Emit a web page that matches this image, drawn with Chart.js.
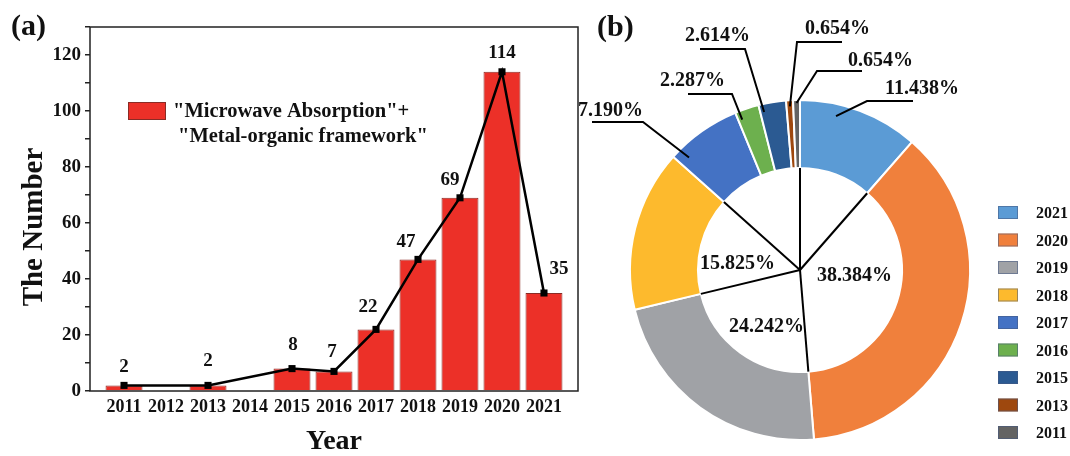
<!DOCTYPE html>
<html><head><meta charset="utf-8">
<script src="https://cdn.jsdelivr.net/npm/chart.js@4/dist/chart.umd.min.js"></script>
<style>
html,body{margin:0;padding:0;background:#fff;width:1070px;height:456px;overflow:hidden}
#c1{position:absolute;left:0;top:0}
#c2{position:absolute;left:560px;top:0}
</style></head><body>
<canvas id="c1" width="590" height="456"></canvas>
<canvas id="c2" width="510" height="456"></canvas>
<script>
// ---- data: panel (a)
const years = [2011, 2013, 2015, 2016, 2017, 2018, 2019, 2020, 2021];
const counts = [2, 2, 8, 7, 22, 47, 69, 114, 35];
const xTickYears = [2011, 2012, 2013, 2014, 2015, 2016, 2017, 2018, 2019, 2020, 2021];
const yTickValues = [0, 20, 40, 60, 80, 100, 120];
const seriesName = ['"Microwave Absorption"+', '"Metal-organic framework"'];
// ---- data: panel (b)
const pieYears = ['2021', '2020', '2019', '2018', '2017', '2016', '2015', '2013', '2011'];
const pieCounts = [35, 114, 69, 47, 22, 7, 8, 2, 2];
const pieLabels = ['11.438%', '38.384%', '24.242%', '15.825%', '7.190%', '2.287%', '2.614%', '0.654%', '0.654%'];

// ---- styles
const SERIF = '"Liberation Serif", "Times New Roman", serif';
const barColor = '#EC3028';
const pieColors = ['#5B9BD5', '#F0803C', '#A0A2A6', '#FDBA2D', '#4472C4', '#6DB04E', '#2B5A92', '#9E480E', '#636363'];
// value label nudges (relative to point): [dx, dy]
const valueNudge = [[0,-13],[0,-19],[1,-19],[-2,-14],[-8,-17],[-12,-12],[-10,-13],[0,-14],[15,-19]];
// pie callouts (relative to the pie centre)
const pieCallouts = [
  {i:0, t:0.32, r:158, elbow:[67,-169], end:[113,-169], text:[85,-176]},
  {i:7, t:0.5,  r:164, elbow:[-3,-228], end:[42,-228],  text:[5,-236]},
  {i:8, t:0.5,  r:167, elbow:[17,-199], end:[62,-199],  text:[48,-204]},
  {i:6, t:0.14, r:162, elbow:[-55,-221], end:[-100,-221], text:[-115,-229]},
  {i:5, t:0.16, r:161, elbow:[-68,-176], end:[-112,-176], text:[-140,-184]},
  {i:4, t:0.14, r:158, elbow:[-157,-148], end:[-208,-148], text:[-222,-154]}
];
const pieInner = [{i:1, text:[17,11]}, {i:2, text:[-71,62]}, {i:3, text:[-100,-1]}];

const framePlugin = {
  id: 'frame',
  afterDatasetsDraw(chart) {
    const {ctx, chartArea: a} = chart;
    ctx.save();
    ctx.strokeStyle = '#222'; ctx.lineWidth = 1.5;
    ctx.strokeRect(a.left, a.top, a.right - a.left, a.bottom - a.top);
    ctx.restore();
  }
};
const valueLabelPlugin = {
  id: 'valueLabels',
  afterDatasetsDraw(chart) {
    const ctx = chart.ctx;
    const meta = chart.getDatasetMeta(0);
    ctx.save();
    ctx.font = 'bold 19px ' + SERIF;
    ctx.fillStyle = '#111'; ctx.textAlign = 'center'; ctx.textBaseline = 'alphabetic';
    meta.data.forEach((pt, i) => {
      const n = valueNudge[i];
      ctx.fillText(String(counts[i]), pt.x + n[0], pt.y + n[1]);
    });
    ctx.restore();
  }
};
const leftDecor = {
  id: 'leftDecor',
  afterDraw(chart) {
    const ctx = chart.ctx;
    ctx.save();
    // legend
    ctx.fillStyle = barColor; ctx.fillRect(128, 102, 38, 18);
    ctx.strokeStyle = '#8a2b25'; ctx.lineWidth = 1; ctx.strokeRect(128.5, 102.5, 37, 17);
    ctx.fillStyle = '#111'; ctx.font = 'bold 20.5px ' + SERIF; ctx.textAlign = 'left'; ctx.textBaseline = 'alphabetic';
    ctx.fillText(seriesName[0], 173, 117);
    ctx.fillText(seriesName[1], 178, 142);
    // panel label
    ctx.font = 'bold 30px ' + SERIF;
    ctx.fillText('(a)', 11, 35);
    // y title
    ctx.translate(42, 227); ctx.rotate(-Math.PI / 2);
    ctx.font = 'bold 29px ' + SERIF; ctx.textAlign = 'center';
    ctx.fillText('The Number', 0, 0);
    ctx.restore();
  }
};

new Chart(document.getElementById('c1'), {
  type: 'bar',
  data: {
    datasets: [
      { type: 'line', label: 'line', data: years.map((y, i) => ({x: y, y: counts[i]})),
        borderColor: '#000', borderWidth: 2.5, pointStyle: 'rect', pointRadius: 5,
        pointBackgroundColor: '#000', pointBorderColor: '#000', pointBorderWidth: 0, tension: 0, order: 0 },
      { type: 'bar', label: seriesName.join(' '), data: years.map((y, i) => ({x: y, y: counts[i]})),
        backgroundColor: barColor, borderColor: '#8a2b25', borderWidth: 1,
        barPercentage: 0.88, categoryPercentage: 1, order: 1 }
    ]
  },
  options: {
    responsive: false, animation: false,
    layout: {padding: {left: 0, top: 27, right: 12, bottom: 0}},
    plugins: {legend: {display: false}, tooltip: {enabled: false}},
    scales: {
      x: {
        type: 'linear', min: 2010.19, max: 2021.81, offset: false,
        afterBuildTicks: s => { s.ticks = xTickYears.map(v => ({value: v})); },
        afterFit: s => { s.height = 65; },
        grid: {display: false, drawTicks: false}, border: {display: false},
        ticks: {font: {family: SERIF, weight: 'bold', size: 18}, color: '#111', padding: 6,
                autoSkip: false, maxRotation: 0, callback: v => String(v)},
        title: {display: true, text: 'Year', color: '#111', padding: {top: 0, bottom: 0},
                font: {family: SERIF, weight: 'bold', size: 28, lineHeight: 1}}
      },
      y: {
        min: 0, max: 130,
        afterFit: s => { s.width = 90; },
        ticks: {stepSize: 10, padding: 4, color: '#111', font: {family: SERIF, weight: 'bold', size: 19},
                callback: v => yTickValues.includes(v) ? String(v) : ''},
        grid: {drawOnChartArea: false, drawTicks: true, tickLength: 5, color: '#222', lineWidth: 1.5},
        border: {display: false}
      }
    }
  },
  plugins: [framePlugin, valueLabelPlugin, leftDecor]
});

const pieDecor = {
  id: 'pieDecor',
  afterDatasetsDraw(chart) {
    const ctx = chart.ctx;
    const arcs = chart.getDatasetMeta(0).data;
    const cx = arcs[0].x, cy = arcs[0].y;
    const inner = arcs[0].innerRadius;
    ctx.save();
    ctx.strokeStyle = '#000'; ctx.lineWidth = 2; ctx.lineCap = 'butt';
    // spokes from centre to inner edge
    const spokes = [arcs[0].startAngle, arcs[0].endAngle, arcs[1].endAngle, arcs[2].endAngle, arcs[3].endAngle];
    spokes.forEach(a => {
      ctx.beginPath(); ctx.moveTo(cx, cy);
      ctx.lineTo(cx + inner * Math.cos(a), cy + inner * Math.sin(a)); ctx.stroke();
    });
    ctx.font = 'bold 20px ' + SERIF; ctx.fillStyle = '#111'; ctx.textAlign = 'left'; ctx.textBaseline = 'alphabetic';
    pieCallouts.forEach(c => {
      const arc = arcs[c.i];
      const a = arc.startAngle + (arc.endAngle - arc.startAngle) * c.t;
      ctx.beginPath();
      ctx.moveTo(cx + c.r * Math.cos(a), cy + c.r * Math.sin(a));
      ctx.lineTo(cx + c.elbow[0], cy + c.elbow[1]);
      ctx.lineTo(cx + c.end[0], cy + c.end[1]);
      ctx.stroke();
      ctx.fillText(pieLabels[c.i], cx + c.text[0], cy + c.text[1]);
    });
    pieInner.forEach(c => ctx.fillText(pieLabels[c.i], cx + c.text[0], cy + c.text[1]));
    // legend
    ctx.font = 'bold 16px ' + SERIF;
    pieYears.forEach((y, i) => {
      const base = 218 + i * 27.5;
      ctx.fillStyle = pieColors[i]; ctx.fillRect(438, base - 12, 20, 13);
      ctx.strokeStyle = 'rgba(70,90,130,0.55)'; ctx.lineWidth = 1; ctx.strokeRect(438.5, base - 11.5, 19, 12);
      ctx.fillStyle = '#111'; ctx.fillText(y, 476, base);
    });
    ctx.font = 'bold 30px ' + SERIF;
    ctx.fillText('(b)', 37, 36);
    ctx.restore();
  }
};

new Chart(document.getElementById('c2'), {
  type: 'doughnut',
  data: {labels: pieYears, datasets: [{data: pieCounts, backgroundColor: pieColors, borderColor: '#fff', borderWidth: 2}]},
  options: {
    responsive: false, animation: false, cutout: '60%',
    layout: {padding: {left: 69, right: 99, top: 99, bottom: 15}},
    plugins: {legend: {display: false}, tooltip: {enabled: false}}
  },
  plugins: [pieDecor]
});
</script>
</body></html>
